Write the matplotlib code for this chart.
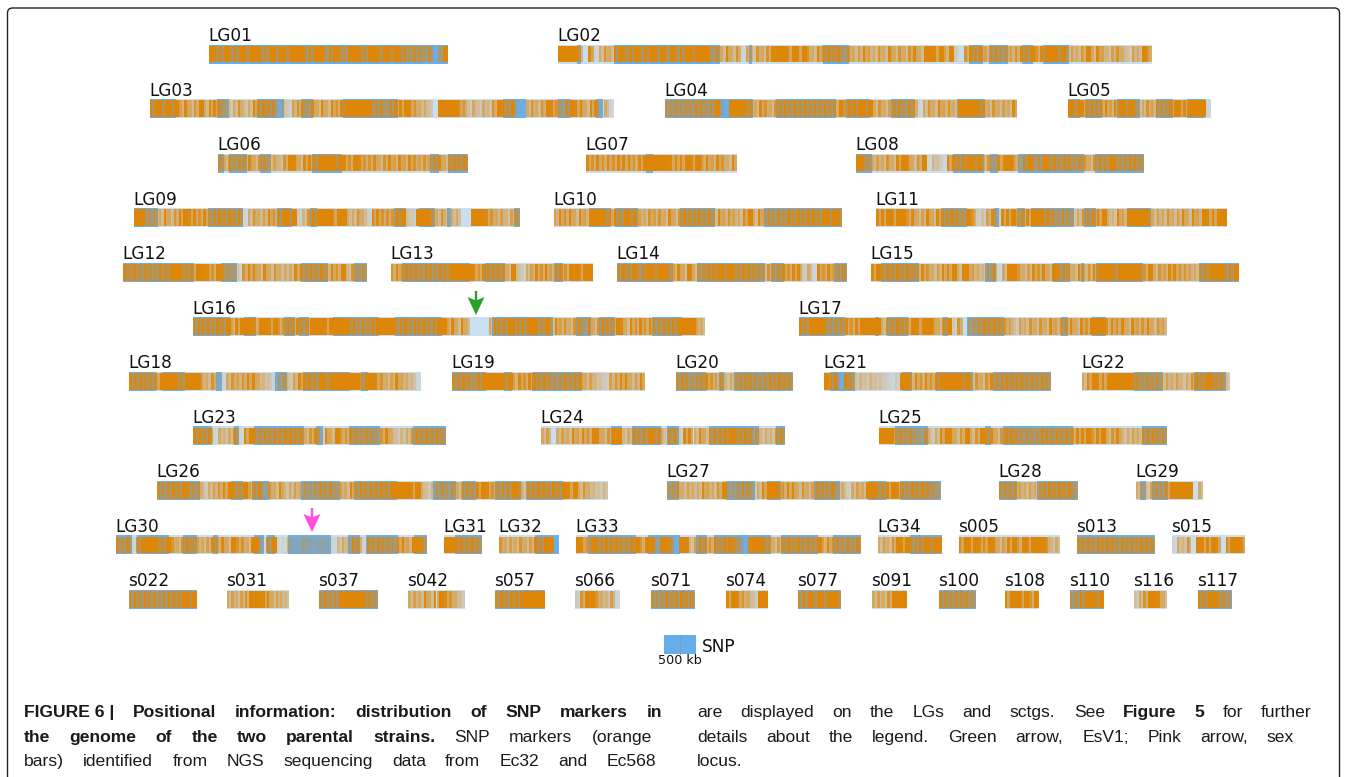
import matplotlib
matplotlib.use("Agg")
import matplotlib.pyplot as plt
from matplotlib.patches import FancyBboxPatch

W, H = 1354, 777
ORANGE = (0.871, 0.525, 0.027)
PALE = "#c9dff0"
BLUE = "#6caeea"

# name, row, start, end of every linkage group / supercontig
NAMES = ["LG01","LG02","LG03","LG04","LG05","LG06","LG07","LG08","LG09","LG10","LG11",
         "LG12","LG13","LG14","LG15","LG16","LG17","LG18","LG19","LG20","LG21","LG22",
         "LG23","LG24","LG25","LG26","LG27","LG28","LG29","LG30","LG31","LG32","LG33","LG34",
         "s005","s013","s015","s022","s031","s037","s042","s057","s066","s071","s074","s077",
         "s091","s100","s108","s110","s116","s117"]
ROWS = [0,0,1,1,1,2,2,2,3,3,3,4,4,4,4,5,5,6,6,6,6,6,7,7,7,8,8,8,8,
        9,9,9,9,9,9,9,9,10,10,10,10,10,10,10,10,10,10,10,10,10,10,10]
STARTS = [209,558,150,665,1068,218,586,856,134,554,876,123,391,617,871,193,799,129,452,676,824,1082,
          193,541,879,157,667,999,1136,116,444,499,576,878,959,1077,1172,129,227,319,408,495,575,651,726,798,
          872,939,1005,1070,1134,1198]
ENDS = [448,1152,614,1017,1211,468,737,1144,520,842,1227,367,593,847,1239,705,1167,421,645,793,1051,1230,
        446,785,1167,608,941,1078,1203,427,482,559,861,942,1060,1155,1245,197,289,378,465,545,620,695,768,841,
        907,976,1039,1104,1167,1232]

# SNP density along each sequence, 0 (none) to 9 (saturated), read block by block
SNP = [
 "988978989987989899978996897699879979898767657059",
 "999960815758978978989797898999575857164757999898975878785756865758575785998969207878678676787978998956579586467536597",
 "89898968579588753574587877142677585858789999987857889875530999987353547987810575798747988588151",
 "66767687679309998758757787878787877978898957567868715758675999987575658",
 "9798787786898984576767898899991",
 "757676857756479858879998987987785786868767678 57878".replace(" ",""),
 "87878788878999998889897868758",
 "986565758985791431887898957489974896797868767757879877887",
 "997665857898878678787815756877989247899989955752887778932999657355009998756466",
 "6878586999888798865767585787787858676589586767687878879898",
 "8898997856858778769723682889678998876764577889548699998565756858698899",
 "87878768899878998797652788585755588787868794767",
 "787878787688999998787888594256878678799899",
 "7879689899768595678898987887757678788251878667",
 "8978787876875688959865467159975687859787586789998999987957688776578999789",
 "7878787968999799897787878999899998868789999788787878996858500005878988899879586757758578779858787867878999965",
 "879997677878999957787798998579270567878776365757586778587999787858678576",
 "878778999879996572157678854315636888798999999799875686541",
 "77876899998968788787678788564326788568",
 "787677876745677776787877",
 "97808734343321299687878999989575787888887878 7".replace(" ",""),
 "589889999987676756564578798773",
 "88781545718977878788785782859778767657853457878787",
 "560565868798579945878988377288585788898787745478",
 "999676754735898579579785788767678878787889789578456578877",
 "76787976735678977967837584565656767565878788879999895346757567689877789848788787989575434",
 "6675655865794567735899878857567768452565997789876878765",
 "7777656577878785",
 "55366689999905",
 "76817999879757876568685977598179114224323321454871878776886997",
 "9988887",
 "756575687990",
 "98798888877897993997099468778789750999875678787879687767 68".replace(" ",""),
 "56579897789899",
 "898988985689798999745",
 "8787878778787877",
 "154709889808998",
 "78787767888989",
 "56567999885654",
 "787799999876",
 "56585898753",
 "7878899999",
 "279975461",
 "767877877",
 "89875399",
 "789798998",
 "5657999",
 "7777776",
 "8998979",
 "6789989",
 "3579985",
 "8899775",
]

# stretches with many mapped markers (saturated blue)
MARKERS = [
 [(209,448)],
 [(577,581),(614,720),(749,752),(823,849),(969,983),(989,1008),(1022,1033),(1043,1069)],
 [(150,176),(217,229),(257,284),(301,313),(343,398),(503,526),(558,571),(596,603)],
 [(665,753),(776,836),(846,870),(891,915),(957,985)],
 [(1068,1080),(1085,1102),(1117,1140),(1156,1173),(1187,1205)],
 [(218,224),(229,247),(260,271),(312,342),(430,439),(448,468)],
 [(646,653)],
 [(856,872),(953,984),(990,998),(1018,1084),(1095,1144)],
 [(134,158),(208,243),(277,292),(310,317),(394,406),(419,435),(447,451),(514,520)],
 [(589,611),(615,638),(680,715),(764,842)],
 [(941,967),(994,999),(1017,1025),(1031,1074),(1084,1096),(1127,1151)],
 [(123,194),(221,237),(301,328),(354,367)],
 [(402,470),(485,505),(554,563)],
 [(617,673),(697,765),(771,784),(834,847)],
 [(881,919),(985,996),(1053,1070),(1081,1084),(1096,1143),(1199,1239)],
 [(193,230),(244,256),(284,295),(299,309),(333,379),(395,442),(492,553),(576,591),(599,615),(652,682)],
 [(799,845),(875,879),(887,908),(943,948),(967,1004),(1061,1068),(1092,1106)],
 [(129,156),(162,185),(216,222),(275,287),(303,350),(361,368)],
 [(452,486),(504,512),(532,582)],
 [(676,706),(719,724),(734,793)],
 [(830,855),(902,912),(936,973),(993,1051)],
 [(1134,1163),(1194,1226)],
 [(193,212),(234,239),(254,304),(316,323),(349,380),(413,446)],
 [(611,622),(632,661),(667,679),(709,759),(776,785)],
 [(895,928),(985,991),(1003,1073),(1142,1167)],
 [(157,200),(231,243),(252,269),(301,340),(354,397),(433,456),(462,476),(495,521),(526,563)],
 [(667,679),(726,755),(767,781),(814,840),(868,886),(900,941)],
 [(999,1017),(1037,1078)],
 [(1140,1146),(1152,1168)],
 [(116,132),(137,169),(183,197),(213,218),(254,264),(267,275),(288,331),(348,360),(366,398),(414,427)],
 [(455,482)],
 [(535,559)],
 [(588,636),(648,680),(696,707),(714,771),(781,818),(833,861)],
 [(910,942)],
 [],
 [(1077,1155)],
 [],
 [(129,197)],
 [],
 [(319,378)],
 [],
 [(495,545)],
 [],
 [(651,695)],
 [],
 [(798,841)],
 [],
 [(939,976)],
 [],
 [(1070,1104)],
 [],
 [(1198,1232)],
]

ROW_TOP = 44.5
ROW_STEP = 54.55
BAR_H = 19.0

fig = plt.figure(figsize=(W / 100, H / 100), dpi=100, facecolor="white")
ax = fig.add_axes([0, 0, 1, 1])
ax.set_xlim(0, W)
ax.set_ylim(H, 0)
ax.axis("off")

# page frame runs off the bottom of the crop
ax.add_patch(FancyBboxPatch((7.5, 8), 1332, 800, boxstyle="round,pad=0,rounding_size=5",
                            fc="none", ec="#222222", lw=1.0))

for name, row, x0, x1, snp, spans in zip(NAMES, ROWS, STARTS, ENDS, SNP, MARKERS):
    top = ROW_TOP + ROW_STEP * row
    ax.bar(x0, BAR_H, width=x1 - x0, bottom=top, align="edge", color=PALE, lw=0)
    for a, b in spans:
        ax.bar(a, BAR_H, width=b - a, bottom=top, align="edge", color=BLUE, lw=0)
    cell = (x1 - x0) / len(snp) / 2
    lefts, cols = [], []
    for i, c in enumerate(snp):
        a = int(c) / 9
        lefts += [x0 + 2 * i * cell, x0 + (2 * i + 1) * cell]
        cols += [ORANGE + (min(1, a * 1.08),), ORANGE + (a if a == 1 else a * 0.72,)]
    ax.bar(lefts, BAR_H - 2.4, width=cell, bottom=top + 1.2, align="edge", color=cols, lw=0)
    ax.text(x0 - 1, top - 3.5, name, fontsize=12.2, color="#111111", family="DejaVu Sans",
            ha="left", va="baseline")

# arrows
def arrow(x, y, color):
    xs = [x - 1.2, x + 1.2, x + 1.2, x + 8.5, x, x - 8.5, x - 1.2]
    ys = [y, y, y + 9, y + 6, y + 24, y + 6, y + 9]
    ax.fill(xs, ys, color=color, lw=0)

arrow(476, 291, "#2ca02c")
arrow(312, 508, "#ff4fdc")

# scale legend
ax.bar(664, 19, width=32, bottom=635, align="edge", color="#66aee9", lw=0)
ax.plot([680, 680], [635, 654], color="#8a9aa8", lw=0.7)
ax.text(702, 652, "SNP", fontsize=12.2, color="#111111", ha="left", va="baseline")
ax.text(680, 664, "500 kb", fontsize=9.2, color="#111111", ha="center", va="baseline")

# caption, justified word by word
CAPTION = [
    (24, 662, 717, True, [("FIGURE 6 |", 1), ("Positional", 1), ("information:", 1), ("distribution", 1),
                          ("of", 1), ("SNP", 1), ("markers", 1), ("in", 1)]),
    (24, 652, 742, True, [("the", 1), ("genome", 1), ("of", 1), ("the", 1), ("two", 1), ("parental", 1),
                          ("strains.", 1), ("SNP", 0), ("markers", 0), ("(orange", 0)]),
    (24, 656, 766, True, [("bars)", 0), ("identified", 0), ("from", 0), ("NGS", 0), ("sequencing", 0),
                          ("data", 0), ("from", 0), ("Ec32", 0), ("and", 0), ("Ec568", 0)]),
    (697, 1312, 717, True, [("are", 0), ("displayed", 0), ("on", 0), ("the", 0), ("LGs", 0), ("and", 0),
                            ("sctgs.", 0), ("See", 0), ("Figure", 1), ("5", 1), ("for", 0), ("further", 0)]),
    (697, 1294, 742, True, [("details", 0), ("about", 0), ("the", 0), ("legend.", 0), ("Green", 0), ("arrow,", 0),
                            ("EsV1;", 0), ("Pink", 0), ("arrow,", 0), ("sex", 0)]),
    (697, 745, 766, False, [("locus.", 0)]),
]
fig.canvas.draw()
rend = fig.canvas.get_renderer()
for x0, x1, y, just, words in CAPTION:
    arts = [ax.text(0, y, w, fontsize=12.6, family="Liberation Sans", color="#1a1a1a",
                    fontweight="bold" if b else "normal", ha="left", va="baseline")
            for w, b in words]
    widths = [a.get_window_extent(rend).width for a in arts]
    gap = (x1 - x0 - sum(widths)) / max(len(words) - 1, 1) if just else 4
    x = x0
    for a, w in zip(arts, widths):
        a.set_x(x)
        x += w + gap

fig.savefig("out.png", dpi=100)
